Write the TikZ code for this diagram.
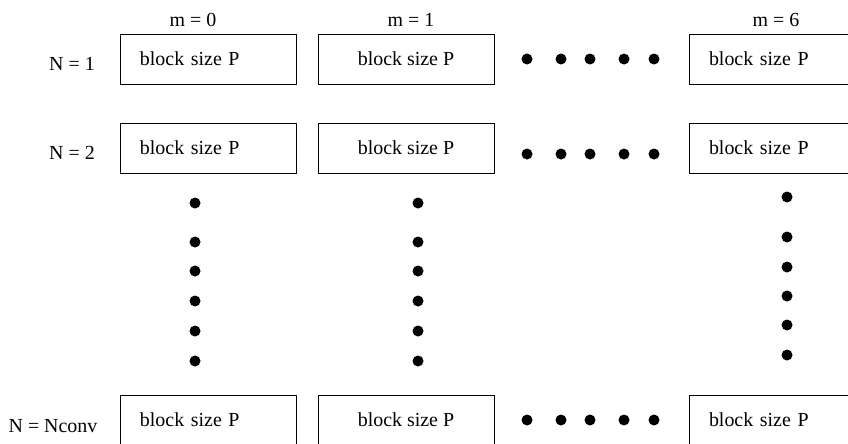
\documentclass[tikz,border=0pt]{standalone}
\usepackage{fontspec}
\setmainfont{Liberation Serif}
\begin{document}
\begin{tikzpicture}[x=0.03cm, y=-0.03cm,
    blockbox/.style={rectangle, draw, semithick, minimum width=5.28cm,
      minimum height=1.5cm, inner ysep=0pt},
    leftset/.style={text width=4.08cm, inner xsep=0.6cm, align=left},
    dot/.style={circle, fill, inner sep=0pt, minimum size=0.33cm},
    every node/.style={font=\fontsize{17}{20}\selectfont}]
    \clip (0,0) rectangle (848,443);
    % column heads and row labels
    \node (m0) at (193,20) {m = 0}; \node (m1) at (411,20) {m = 1};
    \node (m6) at (776,20) {m = 6};
    \node (n1) at (72,64) {N = 1}; \node (n2) at (72,153) {N = 2};
    \node (nc) at (53,426) {N = Nconv};
    \begin{scope}[every node/.append style={blockbox}]
      \node [leftset] (b10) at (208,59) {block size P};
      \node (b11) at (406,59) {block size P};
      \node [leftset] (b16) at (777,59) {block size P};
      \node [leftset] (b20) at (208,148) {block size P};
      \node (b21) at (406,148) {block size P};
      \node [leftset] (b26) at (777,148) {block size P};
      \node [leftset] (bc0) at (208,420) {block size P};
      \node (bc1) at (406,420) {block size P};
      \node [leftset] (bc6) at (777,420) {block size P};
    \end{scope}
    % dots between m = 1 and m = 6
    \foreach \x [count=\i] in {527,561,590,624,654} {
      \node [dot] (h1\i) at (\x,59) {};
      \node [dot] (h2\i) at (\x,154) {};
      \node [dot] (hc\i) at (\x,420) {}; }
    % dots between N = 2 and N = Nconv
    \foreach \y [count=\i] in {203,242,271,301,331,361} {
      \node [dot] (v0\i) at (195,\y) {};
      \node [dot] (v1\i) at (418,\y) {}; }
    \foreach \y [count=\i] in {197,237,267,296,325,355}
      \node [dot] (v6\i) at (787,\y) {};
  \end{tikzpicture}
\end{document}
